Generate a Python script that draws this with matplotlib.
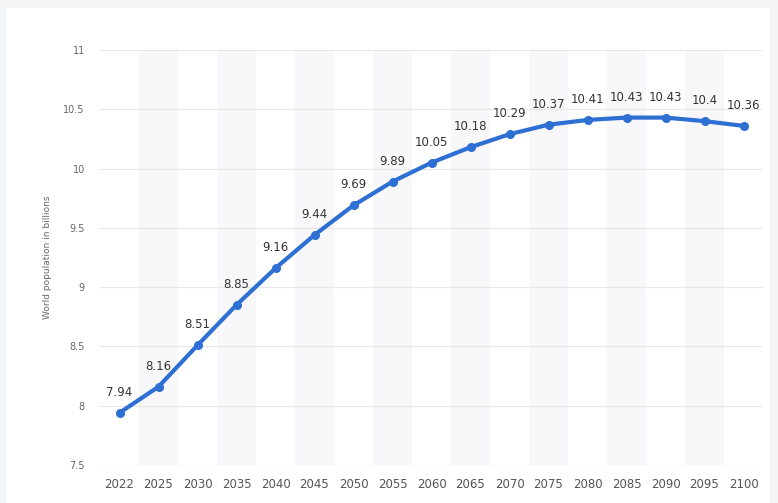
import matplotlib.pyplot as plt
import matplotlib.patches as mpatches

# world population forecast (billions)
years = ['2022', '2025', '2030', '2035', '2040', '2045', '2050', '2055', '2060',
         '2065', '2070', '2075', '2080', '2085', '2090', '2095', '2100']
population = [7.94, 8.16, 8.51, 8.85, 9.16, 9.44, 9.69, 9.89, 10.05,
              10.18, 10.29, 10.37, 10.41, 10.43, 10.43, 10.4, 10.36]
labels = ['7.94', '8.16', '8.51', '8.85', '9.16', '9.44', '9.69', '9.89', '10.05',
          '10.18', '10.29', '10.37', '10.41', '10.43', '10.43', '10.4', '10.36']
y_ticks = [7.5, 8, 8.5, 9, 9.5, 10, 10.5, 11]
y_ticklabels = ['7.5', '8', '8.5', '9', '9.5', '10', '10.5', '11']

W, H = 778, 503
fig = plt.figure(figsize=(W / 100, H / 100), dpi=100)
fig.patch.set_facecolor('#f4f5f7')

# white card behind the chart
card = mpatches.Rectangle((6 / W, 0), 764 / W, 495 / H,
                          transform=fig.transFigure,
                          facecolor='white', edgecolor='none', zorder=-10)
fig.patches.append(card)

ax = fig.add_axes([100 / W, 1 - 465 / H, 663 / W, 415 / H])
ax.set_facecolor('none')

x = list(range(len(years)))

# alternating column shading
for i in x:
    if i % 2 == 1:
        ax.axvspan(i - 0.5, i + 0.5, color='#f8f8fa', zorder=0, lw=0)

for t in y_ticks:
    ax.axhline(t, color='#e8e8e8', lw=0.9, zorder=1)

ax.plot(x, population, color='#2d6fd2', lw=3, marker='o', markersize=5.5,
        solid_capstyle='round', zorder=3)

for xi, v, s in zip(x, population, labels):
    ax.annotate(s, (xi, v), xytext=(0, 10), textcoords='offset points',
                ha='center', va='bottom', fontsize=8.5, color='#333333')

ax.set_xlim(-0.5, len(years) - 0.5)
ax.set_ylim(7.5, 11)
ax.set_xticks(x)
ax.set_xticklabels(years, fontsize=8.5, color='#555555')
ax.set_yticks(y_ticks)
ax.set_yticklabels(y_ticklabels, fontsize=7, color='#666666')
ax.tick_params(length=0)
ax.tick_params(axis='y', pad=11)
ax.tick_params(axis='x', pad=9)
for sp in ax.spines.values():
    sp.set_visible(False)

ax.set_ylabel('World population in billions', fontsize=6.5, color='#666666', labelpad=8)

fig.savefig('out.png', dpi=100)
